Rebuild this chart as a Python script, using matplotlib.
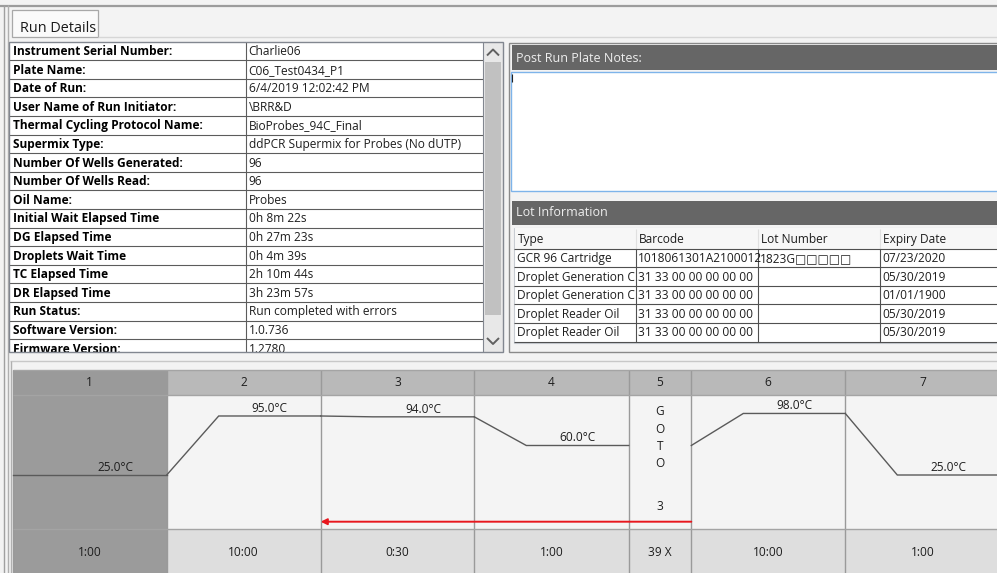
import matplotlib
matplotlib.use('Agg')
import matplotlib.pyplot as plt
from matplotlib.patches import Rectangle
import numpy as np

plt.rcParams['font.family'] = ['Open Sans', 'DejaVu Sans']

# ---------------- data ----------------
run_fields = ["Instrument Serial Number:", "Plate Name:", "Date of Run:",
              "User Name of Run Initiator:", "Thermal Cycling Protocol Name:",
              "Supermix Type:", "Number Of Wells Generated:", "Number Of Wells Read:",
              "Oil Name:", "Initial Wait Elapsed Time", "DG Elapsed Time",
              "Droplets Wait Time", "TC Elapsed Time", "DR Elapsed Time",
              "Run Status:", "Software Version:", "Firmware Version:"]
run_values = ["Charlie06", "C06_Test0434_P1", "6/4/2019 12:02:42 PM", "\\BRR&D",
              "BioProbes_94C_Final", "ddPCR Supermix for Probes (No dUTP)", "96", "96",
              "Probes", "0h 8m 22s", "0h 27m 23s", "0h 4m 39s", "2h 10m 44s",
              "3h 23m 57s", "Run completed with errors", "1.0.736", "1.2780"]

lot_columns = ["Type", "Barcode", "Lot Number", "Expiry Date"]
lot_types = ["GCR 96 Cartridge", "Droplet Generation C", "Droplet Generation C",
             "Droplet Reader Oil", "Droplet Reader Oil"]
lot_barcodes = ["1018061301A2100012", "31 33 00 00 00 00 00", "31 33 00 00 00 00 00",
                "31 33 00 00 00 00 00", "31 33 00 00 00 00 00"]
lot_numbers = ["1823G\u25a1\u25a1\u25a1\u25a1\u25a1", "", "", "", ""]
lot_expiry = ["07/23/2020", "05/30/2019", "01/01/1900", "05/30/2019", "05/30/2019"]

step_labels = ["1", "2", "3", "4", "5", "6", "7"]
step_temps = [25.0, 95.0, 94.0, 60.0, None, 98.0, 25.0]
step_times = ["1:00", "10:00", "0:30", "1:00", "39 X", "10:00", "1:00"]
goto_target = 3

# ---------------- layout ----------------
W, H = 997, 573
BG = '#f3f3f3'
FS = 8.6
fig = plt.figure(figsize=(W / 100, H / 100), dpi=100)
fig.patch.set_facecolor(BG)
ax = fig.add_axes([0, 0, 1, 1])
ax.set_xlim(0, W)
ax.set_ylim(H, 0)
ax.axis('off')


def rect(x0, y0, x1, y1, fc='none', ec='none', lw=1.0, z=1):
    r = Rectangle((x0, y0), x1 - x0, y1 - y0, facecolor=fc, edgecolor=ec, lw=lw, zorder=z)
    ax.add_patch(r)
    return r


def line(xs, ys, color, lw=1.0, z=3):
    ax.plot(xs, ys, color=color, lw=lw, zorder=z, solid_capstyle='butt')


# window frame
line([0, W], [5.5, 5.5], '#9c9c9c', 1.6)
line([3.5, 3.5], [5, H], '#a0a0a0', 1.0)
line([7.5, 7.5], [5, H], '#b0b0b0', 1.0)
line([98, W], [36.5, 36.5], '#d6d6d6', 1.0)

# tab
rect(12, 10, 98, 37, fc='#fafafa', ec='#a8a8a8', lw=0.9, z=2)
ax.text(20, 28, "Run Details", fontsize=10.4, va='center', ha='left', color='#1a1a1a', zorder=4)

# ---- run details table ----
tx0, tx1, ty0, ty1 = 9, 503, 41.5, 351.5
sb0 = 482.5
colx = 245.7
pitch = 18.6
rect(tx0, ty0, tx1, ty1, fc='white', ec='none', z=1)
clip = Rectangle((tx0, ty0), sb0 - tx0, ty1 - ty0, transform=ax.transData, fc='none', ec='none')
for i, (f, v) in enumerate(zip(run_fields, run_values)):
    y0 = ty0 + pitch * i
    yc = y0 + pitch / 2 + 0.7
    t1 = ax.text(12.5, yc, f, fontsize=FS, fontweight='bold', va='center', ha='left', color='black', zorder=4)
    t2 = ax.text(248.5, yc, v, fontsize=FS, va='center', ha='left', color='#1e1e1e', zorder=4)
    t1.set_clip_path(clip)
    t2.set_clip_path(clip)
    yl = y0 + pitch
    if yl < ty1:
        line([tx0, sb0], [yl, yl], '#5c5c5c', 0.8)
line([colx, colx], [ty0, ty1], '#5c5c5c', 0.8)
# scrollbar
rect(sb0, ty0, tx1, ty1, fc='#e8e8e8', ec='none', z=2)
rect(485, 62, 500.5, 315, fc='#c1c1c1', ec='none', z=3)
line([487, 493, 499], [55.5, 49.5, 55.5], '#606060', 1.4, z=4)
line([487, 493, 499], [338, 344, 338], '#606060', 1.4, z=4)
line([sb0, sb0], [ty0, ty1], '#828790', 0.8, z=4)
rect(tx0, ty0, tx1, ty1, fc='none', ec='#828790', lw=1.0, z=5)

# ---- right panel ----
rect(508.5, 42.5, W + 2, 351.5, fc=BG, ec='#8a8a8a', lw=1.0, z=1)
rect(512, 45, W + 2, 69.5, fc='#666666', z=2)
ax.text(515.5, 58, "Post Run Plate Notes:", fontsize=9.0, va='center', ha='left', color='#eeeeee', zorder=4)
rect(510.5, 72, W + 2, 190.5, fc='white', ec='#7eb4ea', lw=1.0, z=2)
line([511.8, 511.8], [73.5, 82], '#222222', 0.8, z=4)
rect(512, 200.5, W + 2, 224.5, fc='#666666', z=2)
ax.text(515.5, 212.5, "Lot Information", fontsize=9.0, va='center', ha='left', color='#eeeeee', zorder=4)

# lot table
lx = [514, 635.7, 757.7, 879.7, W + 2]
ly0, lhead = 227.5, 248.5
rect(lx[0], ly0, W + 2, 343, fc='white', ec='#c8ccd2', lw=0.8, z=2)
rect(lx[0] + 0.5, ly0 + 0.5, W + 2, lhead, fc='#f7f7f7', z=2)
for j, c in enumerate(lot_columns):
    ax.text(lx[j] + 3.5, (ly0 + lhead) / 2 + 1.5, c, fontsize=FS, va='center', ha='left', color='#1e1e1e', zorder=4)
    if j > 0:
        line([lx[j], lx[j]], [ly0 + 1, lhead], '#e0e0e0', 0.8)
lot_cols = [lot_types, lot_barcodes, lot_numbers, lot_expiry]
for i in range(len(lot_types)):
    y0 = lhead + pitch * i
    yc = y0 + pitch / 2 + 0.7
    for j in range(4):
        t = ax.text(lx[j] + 2.5, yc, lot_cols[j][i], fontsize=FS, va='center', ha='left', color='#1e1e1e', zorder=4)
        t.set_clip_path(Rectangle((lx[j], y0), lx[j + 1] - lx[j] - 1, pitch,
                                  transform=ax.transData, fc='none', ec='none'))
    line([lx[0], W + 2], [y0 + pitch, y0 + pitch], '#505050', 0.8)
line([lx[0], W + 2], [lhead, lhead], '#505050', 0.8)
for j in range(1, 4):
    line([lx[j], lx[j]], [lhead, lhead + pitch * len(lot_types)], '#505050', 0.8)

# ---- thermal profile panel ----
line([10, W], [361, 361], '#c8c8c8', 1.0)
line([10.5, 10.5], [361, H], '#b0b0b0', 1.0)

gx0 = 12.7
step_w = [154, 154, 153.6, 154.4, 62.6, 154, 154]
edges = gx0 + np.concatenate([[0], np.cumsum(step_w)])
hy0, hy1, by1 = 369.5, 395, 529
for i, lab in enumerate(step_labels):
    l, r = edges[i], edges[i + 1]
    sel = (i == 0)
    rect(l, hy0, r, hy1, fc='#9a9a9a' if sel else '#b9b9b9', z=1)
    rect(l, hy1, r, by1, fc='#9b9b9b' if sel else '#f4f4f4', z=1)
    rect(l, by1, r, H, fc='#9b9b9b' if sel else '#dedede', z=1)
    ax.text((l + r) / 2, 382.5, lab, fontsize=FS, ha='center', va='center', color='#1e1e1e', zorder=4)
    ax.text((l + r) / 2, 552.5, step_times[i], fontsize=FS, ha='center', va='center', color='#1e1e1e', zorder=4)
for e in edges:
    line([e, e], [hy0, H], '#9a9a9a', 1.0)
for yy in (hy0, hy1, by1):
    line([gx0, W], [yy, yy], '#a4a4a4', 1.0)

# profile axes (temperature scale)
px_per_deg = 0.843
t_bottom = 25 - (by1 - 475) / px_per_deg
t_top = 25 + (475 - hy1) / px_per_deg
pax = fig.add_axes([0, (H - by1) / H, 1, (by1 - hy1) / H])
pax.set_xlim(0, W)
pax.set_ylim(t_bottom, t_top)
pax.axis('off')
pax.patch.set_alpha(0)

ramp = 52
prev = None
for i, T in enumerate(step_temps):
    l, r = edges[i], edges[i + 1]
    if T is None:
        continue
    p = T if prev is None else prev
    pax.plot([l, l + ramp, r], [p, T, T], color='#5a5a5a', lw=1.0, solid_joinstyle='miter')
    pax.annotate(f"{T:.1f}\u00b0C", xy=(l + 103, T), xytext=(0, 5.6), textcoords='offset points',
                 ha='center', va='center', fontsize=FS, color='#1e1e1e')
    prev = T

# GOTO column
gi = step_temps.index(None)
gxc = (edges[gi] + edges[gi + 1]) / 2
for k, ch in enumerate("GOTO"):
    ax.text(gxc, 411.7 + 17.4 * k, ch, fontsize=FS, ha='center', va='center', color='#1e1e1e', zorder=4)
ax.text(gxc, 506, str(goto_target), fontsize=FS, ha='center', va='center', color='#1e1e1e', zorder=4)
ax.annotate('', xy=(edges[goto_target - 1], 521.7), xytext=(edges[gi + 1], 521.7),
            arrowprops=dict(arrowstyle='-|>', color='#e8171e', lw=1.4, mutation_scale=9,
                            shrinkA=0, shrinkB=0), zorder=5)

fig.savefig('out.png', dpi=100, facecolor=fig.get_facecolor())
